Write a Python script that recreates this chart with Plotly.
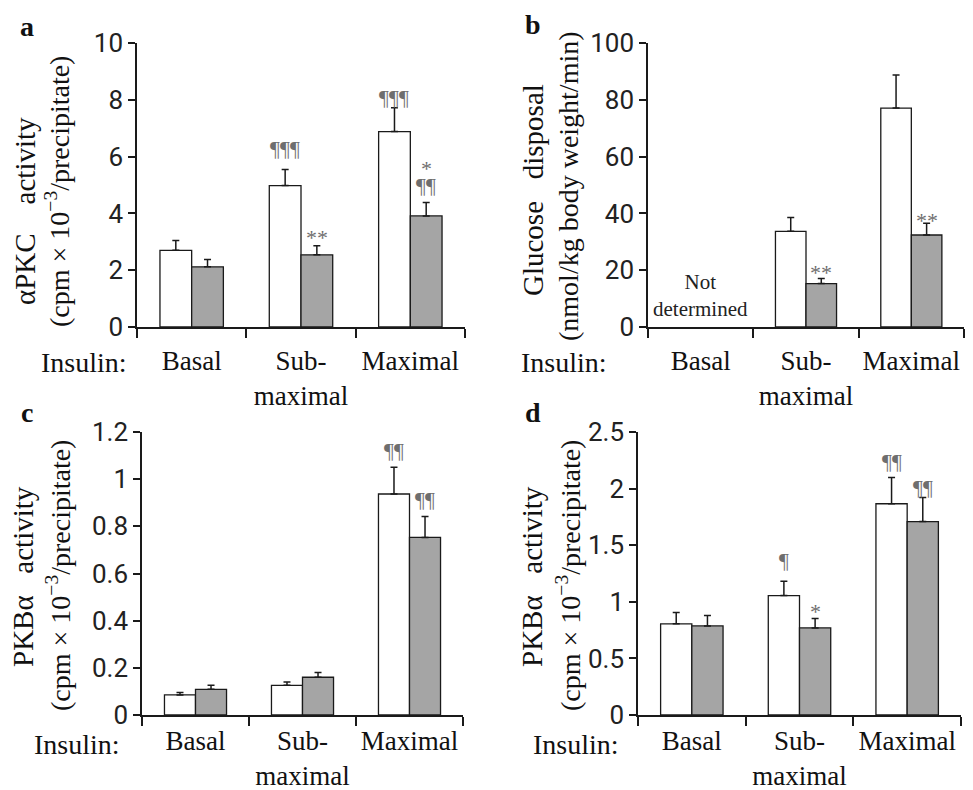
import plotly.graph_objects as go

# ---------------- data ----------------
categories = ["Basal", "Sub-maximal", "Maximal"]
cat_labels = ["Basal", "Sub-<br>maximal", "Maximal"]

a_white = [2.7, 4.98, 6.88]
a_white_err = [0.35, 0.57, 0.84]
a_grey = [2.12, 2.54, 3.91]
a_grey_err = [0.26, 0.32, 0.47]

b_white = [None, 33.7, 77.1]
b_white_err = [0, 4.9, 11.6]
b_grey = [None, 15.3, 32.4]
b_grey_err = [0, 1.8, 4.1]

c_white = [0.085, 0.126, 0.937]
c_white_err = [0.01, 0.014, 0.114]
c_grey = [0.109, 0.16, 0.753]
c_grey_err = [0.017, 0.02, 0.089]

d_white = [0.805, 1.055, 1.866]
d_white_err = [0.10, 0.127, 0.232]
d_grey = [0.787, 0.769, 1.709]
d_grey_err = [0.091, 0.083, 0.212]

# significance marks: (category index, bar: 0 white / 1 grey, text, shift px)
sig_a = [(1, 0, "¶¶¶", 21), (2, 0, "¶¶¶", 10), (2, 1, "¶¶", 17), (2, 1, "*", 34), (1, 1, "**", 8)]
sig_b = [(1, 1, "**", 6), (2, 1, "**", 3)]
sig_c = [(2, 0, "¶¶", 17), (2, 1, "¶¶", 17)]
sig_d = [(2, 0, "¶¶", 16), (2, 1, "¶¶", 10), (1, 0, "¶", 21), (1, 1, "*", 7)]

panels = [
    dict(name="a", white=a_white, werr=a_white_err, grey=a_grey, gerr=a_grey_err,
         yrange=[0, 10], dtick=2, sig=sig_a, standoff=9,
         xpx=(137, 465), ypx=(43, 327),
         title1="αPKC    activity", title2="(cpm × 10<sup>−3</sup>/precipitate)",
         t1=(25, 211), t2=(58, 192), letter=(27, 27), ins=(84, 362)),
    dict(name="b", white=b_white, werr=b_white_err, grey=b_grey, gerr=b_grey_err,
         yrange=[0, 100], dtick=20, sig=sig_b, standoff=9,
         xpx=(648, 964), ypx=(43, 327),
         title1="Glucose   disposal", title2="(nmol/kg body weight/min)",
         t1=(533, 190), t2=(568, 186), letter=(533, 25), ins=(564, 362)),
    dict(name="c", white=c_white, werr=c_white_err, grey=c_grey, gerr=c_grey_err,
         yrange=[0, 1.2], dtick=0.2, sig=sig_c, standoff=1,
         xpx=(142, 463), ypx=(432, 715),
         title1="PKBα   activity", title2="(cpm × 10<sup>−3</sup>/precipitate)",
         t1=(23, 577), t2=(58, 576), letter=(27, 412), ins=(77, 744)),
    dict(name="d", white=d_white, werr=d_white_err, grey=d_grey, gerr=d_grey_err,
         yrange=[0, 2.5], dtick=0.5, sig=sig_d, standoff=1,
         xpx=(638, 961), ypx=(432, 715),
         title1="PKBα   activity", title2="(cpm × 10<sup>−3</sup>/precipitate)",
         t1=(532, 577), t2=(568, 576), letter=(533, 412), ins=(576, 744)),
]

W, H = 973, 790


def fx(px):
    return px / W


def fy(py):
    return 1 - py / H


SERIF = "Liberation Serif, Times New Roman, serif"
NARROW = "Roboto, Liberation Sans, sans-serif"
GREY = "#a5a5a5"
LINE = "#1a1a1a"
SIGC = "#6e6e6e"
BARGAP = 0.42

fig = go.Figure()
annotations = []

for k, p in enumerate(panels):
    xa = "x" if k == 0 else f"x{k+1}"
    ya = "y" if k == 0 else f"y{k+1}"
    for vals, errs, col in [(p["white"], p["werr"], "white"), (p["grey"], p["gerr"], GREY)]:
        fig.add_trace(go.Bar(
            x=categories, y=vals, xaxis=xa, yaxis=ya,
            marker=dict(color=col, line=dict(color=LINE, width=1.3)),
            error_y=dict(type="data", array=errs, arrayminus=[0] * len(errs), symmetric=False,
                         color=LINE, thickness=1.5, width=3.5),
            showlegend=False, hoverinfo="skip",
        ))
    axkey = "xaxis" if k == 0 else f"xaxis{k+1}"
    aykey = "yaxis" if k == 0 else f"yaxis{k+1}"
    fig.update_layout(**{
        axkey: dict(domain=[fx(p["xpx"][0]), fx(p["xpx"][1])], anchor=ya, type="category",
                    tickmode="array", tickvals=categories, ticktext=cat_labels,
                    tickson="boundaries", ticks="outside", ticklen=9, tickwidth=1.5,
                    tickcolor=LINE, showline=True, linecolor=LINE, linewidth=1.5,
                    showgrid=False, zeroline=False, range=[-0.5, 2.5], tickangle=0,
                    automargin=False, ticklabelstandoff=p["standoff"],
                    tickfont=dict(family=SERIF, size=27, color="#111")),
        aykey: dict(domain=[fy(p["ypx"][1]), fy(p["ypx"][0])], anchor=xa,
                    range=p["yrange"], dtick=p["dtick"],
                    tick0=0, ticks="outside", ticklen=7, tickwidth=1.5, tickcolor=LINE,
                    showline=True, linecolor=LINE, linewidth=1.5, showgrid=False,
                    zeroline=False, automargin=False,
                    tickfont=dict(family=NARROW, size=26, color="#222")),
    })
    # significance marks
    half = (1 - BARGAP) / 4
    for (ci, bi, txt, sh) in p["sig"]:
        vals = p["white"] if bi == 0 else p["grey"]
        errs = p["werr"] if bi == 0 else p["gerr"]
        annotations.append(dict(
            x=ci + (-half if bi == 0 else half), y=vals[ci] + errs[ci], xref=xa, yref=ya,
            text=txt, showarrow=False, yanchor="middle", yshift=sh,
            font=dict(family=SERIF, size=22, color=SIGC)))
    # axis titles
    annotations.append(dict(x=fx(p["t1"][0]), y=fy(p["t1"][1]), xref="paper", yref="paper",
                            text=p["title1"], textangle=-90, showarrow=False,
                            xanchor="center", yanchor="middle",
                            font=dict(family=SERIF, size=29, color="#111")))
    annotations.append(dict(x=fx(p["t2"][0]), y=fy(p["t2"][1]), xref="paper", yref="paper",
                            text=p["title2"], textangle=-90, showarrow=False,
                            xanchor="center", yanchor="middle",
                            font=dict(family=SERIF, size=28, color="#111")))
    # panel letter
    annotations.append(dict(x=fx(p["letter"][0]), y=fy(p["letter"][1]), xref="paper",
                            yref="paper", text="<b>" + p["name"] + "</b>", showarrow=False,
                            xanchor="center", yanchor="middle",
                            font=dict(family=SERIF, size=28, color="#111")))
    # Insulin:
    annotations.append(dict(x=fx(p["ins"][0]), y=fy(p["ins"][1]), xref="paper",
                            yref="paper", text="Insulin:", showarrow=False,
                            xanchor="center", yanchor="middle",
                            font=dict(family=SERIF, size=28, color="#111")))

annotations.append(dict(x=0, y=0, xref="x2", yref="y2", text="Not<br>determined",
                        showarrow=False, yanchor="bottom", yshift=4,
                        font=dict(family=SERIF, size=21, color="#222")))

fig.update_layout(
    width=W, height=H, margin=dict(l=0, r=0, t=0, b=0),
    paper_bgcolor="white", plot_bgcolor="white",
    barmode="group", bargap=BARGAP, bargroupgap=0,
    annotations=annotations,
)

fig.write_html(
    "out.html",
    config={"displayModeBar": False},
    post_script="document.body.style.margin='0';document.body.style.padding='0';"
                "document.documentElement.style.overflow='hidden';",
)
